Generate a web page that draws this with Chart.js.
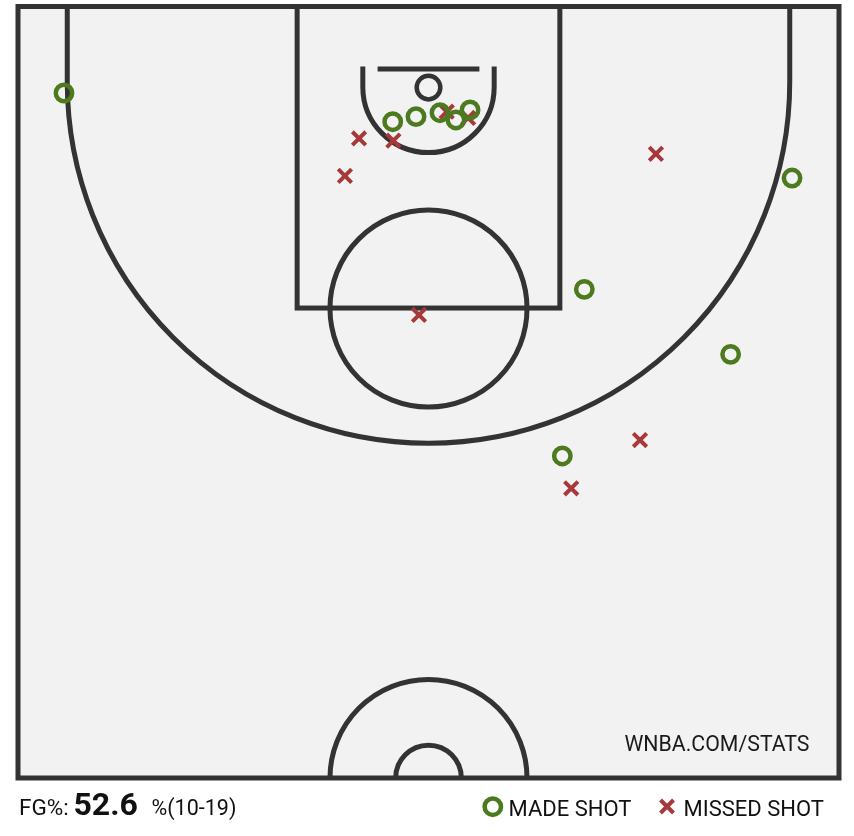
<!DOCTYPE html>
<html>
<head>
<meta charset="utf-8">
<script src="https://cdn.jsdelivr.net/npm/chart.js@4.4.1/dist/chart.umd.min.js"></script>
<style>
  html, body { margin: 0; padding: 0; background: #fff; }
  #wrap { position: relative; width: 854px; height: 836px; }
</style>
</head>
<body>
<div id="wrap"><canvas id="shotchart" width="854" height="836"></canvas></div>
<script>
// shot locations, court units (tenths of a foot, hoop at 0,0)
var madeX = [-222, -21.8, -7.6, 7.0, 16.7, 25.3, 221.4, 94.9, 184.0, 81.5];
var madeY = [3.7, 21.2, 18.1, 15.7, 20.1, 14.0, 55.5, 123.3, 162.9, 224.8];
var missedX = [-42.3, -21.4, -50.9, 11.1, 24.1, 138.5, -5.8, 128.8, 86.9];
var missedY = [31.4, 32.7, 54.2, 15.1, 18.9, 40.8, 138.9, 215.1, 244.5];

var seriesNames = ['MADE SHOT', 'MISSED SHOT'];
var fgPct = '52.6';

var green = '#4b7a1f';
var red = '#a7393a';
var lineCol = '#333333';

function toPoints(xs, ys) {
    var pts = [];
    for (var i = 0; i < xs.length; i++) {
        pts.push({x: xs[i], y: ys[i]});
    }
    return pts;
}

// court drawn under the shots, from the chart scales
var courtPlugin = {
    id: 'court',
    beforeDatasetsDraw: function(chart) {
        var ctx = chart.ctx;
        var a = chart.chartArea;
        var xs = chart.scales.x, ys = chart.scales.y;
        var px = function(v) { return xs.getPixelForValue(v); };
        var py = function(v) { return ys.getPixelForValue(v); };
        var sx = px(1) - px(0);

        ctx.save();
        ctx.fillStyle = '#f2f2f2';
        ctx.fillRect(a.left, a.top, a.right - a.left, a.bottom - a.top);

        ctx.strokeStyle = lineCol;
        ctx.lineWidth = 5;

        // lane
        ctx.strokeRect(px(-80), py(-49), px(80) - px(-80), py(134.7) - py(-49));

        // free throw circle
        ctx.beginPath();
        ctx.arc(px(0), py(135), 60 * sx, 0, Math.PI * 2);
        ctx.stroke();

        // three point line
        ctx.beginPath();
        ctx.moveTo(px(-220), py(-49));
        ctx.lineTo(px(-220), py(-3));
        ctx.arc(px(0), py(-3), 220 * sx, Math.PI, 0, true);
        ctx.lineTo(px(220), py(-49));
        ctx.stroke();

        // restricted area
        ctx.beginPath();
        ctx.moveTo(px(-40), py(-12.5));
        ctx.lineTo(px(-40), py(0));
        ctx.arc(px(0), py(0), 40 * sx, Math.PI, 0, true);
        ctx.lineTo(px(40), py(-12.5));
        ctx.stroke();

        // backboard
        ctx.beginPath();
        ctx.moveTo(px(-31), py(-11));
        ctx.lineTo(px(31), py(-11));
        ctx.stroke();

        // rim
        ctx.lineWidth = 4.5;
        ctx.beginPath();
        ctx.arc(px(0), py(0.4), 7.2 * sx, 0, Math.PI * 2);
        ctx.stroke();

        // center court
        ctx.lineWidth = 5;
        ctx.beginPath();
        ctx.arc(px(0), py(421), 60 * sx, Math.PI, Math.PI * 2);
        ctx.stroke();
        ctx.beginPath();
        ctx.arc(px(0), py(421), 20 * sx, Math.PI, Math.PI * 2);
        ctx.stroke();

        // outer lines
        ctx.strokeRect(a.left, a.top, a.right - a.left, a.bottom - a.top);

        ctx.fillStyle = '#1a1a1a';
        ctx.font = '21.3px Roboto';
        ctx.textAlign = 'right';
        ctx.fillText('WNBA.COM/STATS', 809.5, 751);
        ctx.restore();
    }
};

// FG% line and legend below the court
var footerPlugin = {
    id: 'footer',
    afterDraw: function(chart) {
        var ctx = chart.ctx;
        var made = madeX.length;
        var att = madeX.length + missedX.length;
        ctx.save();
        ctx.fillStyle = '#111';
        ctx.textBaseline = 'alphabetic';
        ctx.textAlign = 'left';
        ctx.font = '22.5px Roboto';
        ctx.fillText('FG%:', 19, 815);
        ctx.font = 'bold 32px Roboto';
        ctx.fillText(fgPct, 73.5, 815);
        ctx.font = '21.5px Roboto';
        ctx.fillText('%(' + made + '-' + att + ')', 151.5, 815);

        // legend markers
        ctx.strokeStyle = green;
        ctx.lineWidth = 4.5;
        ctx.beginPath();
        ctx.arc(492.8, 806.7, 8.2, 0, Math.PI * 2);
        ctx.stroke();

        ctx.strokeStyle = red;
        ctx.lineWidth = 4;
        ctx.beginPath();
        ctx.moveTo(660.5, 800);
        ctx.lineTo(673.5, 813);
        ctx.moveTo(673.5, 800);
        ctx.lineTo(660.5, 813);
        ctx.stroke();

        ctx.fillStyle = '#111';
        ctx.font = '22px Roboto';
        ctx.fillText(seriesNames[0], 508.5, 815.5);
        ctx.fillText(seriesNames[1], 683.5, 815.5);
        ctx.restore();
    }
};

var ctx = document.getElementById('shotchart');
var chart = new Chart(ctx, {
    type: 'scatter',
    data: {
        datasets: [{
            label: seriesNames[0],
            data: toPoints(madeX, madeY),
            pointStyle: 'circle',
            pointRadius: 8.2,
            pointBorderWidth: 4.5,
            borderColor: green,
            backgroundColor: 'rgba(0,0,0,0)'
        }, {
            label: seriesNames[1],
            data: toPoints(missedX, missedY),
            pointStyle: 'crossRot',
            pointRadius: 9.5,
            pointBorderWidth: 4,
            borderColor: red,
            backgroundColor: red
        }]
    },
    options: {
        responsive: false,
        animation: false,
        events: [],
        layout: {
            autoPadding: false,
            padding: {left: 18, right: 15, top: 6.5, bottom: 58}
        },
        scales: {
            x: {type: 'linear', min: -250, max: 250, display: false},
            y: {type: 'linear', min: -49, max: 421, reverse: true, display: false}
        },
        plugins: {
            legend: {display: false},
            tooltip: {enabled: false}
        }
    },
    plugins: [courtPlugin, footerPlugin]
});
</script>
</body>
</html>
